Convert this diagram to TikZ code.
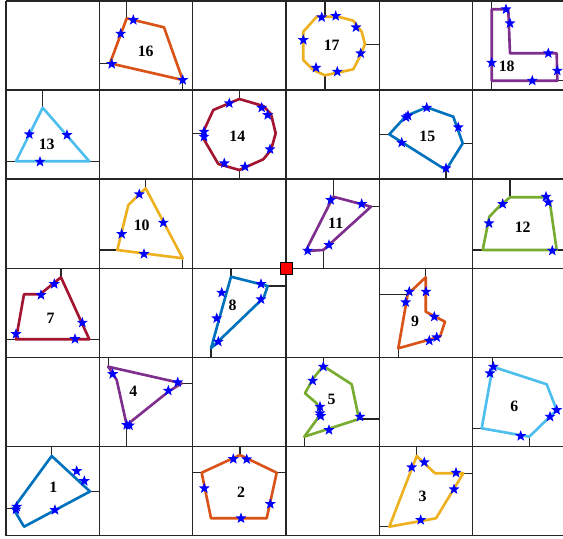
\documentclass[tikz,border=0pt]{standalone}
\usepackage{fontspec}
\setmainfont{Liberation Serif}
\usetikzlibrary{shapes.geometric}
\definecolor{mblue}{RGB}{0,114,189}
\definecolor{morange}{RGB}{217,83,25}
\definecolor{myellow}{RGB}{237,177,32}
\definecolor{mpurple}{RGB}{126,47,142}
\definecolor{mgreen}{RGB}{119,172,48}
\definecolor{mcyan}{RGB}{77,190,238}
\definecolor{mred}{RGB}{162,20,47}
\begin{document}
\begin{tikzpicture}[x=0.2mm,y=-0.2mm,
  gridline/.style={line width=0.75pt,black!85},
  stub/.style={line width=0.75pt,black!85},
  poly/.style={line width=1.5pt,line join=round},
  mstar/.style={star,star points=5,star point ratio=2.4,fill=blue,inner sep=0pt,minimum size=2.3mm},
  num/.style={font=\bfseries\fontsize{9}{10}\selectfont}]
\useasboundingbox (0,0) rectangle (563,539);

% grid
\foreach \i in {0,...,6} {
  \draw[gridline] ({6+93.33*\i},0.9) -- ({6+93.33*\i},535.5);
  \draw[gridline] (6,{0.9+89.1*\i}) -- (566,{0.9+89.1*\i});
}

% 1
\draw[stub] (51.7,446.4) -- (51.7,456) (6,508.5) -- (13.3,508.5) (90,491.5) -- (99.3,491.5);
\draw[poly,mblue] (51.7,456) -- (90,491.5) -- (24,526.7) -- (13.3,508.5) -- cycle;
\foreach \p [count=\k] in {(76.7,471),(84.3,481),(55,510),(16.7,506.7),(16,509.5)}
  \node[mstar] (s1-\k) at \p {};
\node[num] (n1) at (53.3,487.3) {1};

% 2
\draw[stub] (240,446.4) -- (240,455) (192.7,472.7) -- (201.7,472.7) (276.7,472.7) -- (286,472.7);
\draw[poly,morange] (240,455) -- (276.7,472.7) -- (266.7,518.3) -- (211,518.3) -- (201.7,472.7) -- cycle;
\foreach \p [count=\k] in {(233.3,459),(246.7,459.3),(204.3,488.3),(270.3,504),(241,518.3)}
  \node[mstar] (s2-\k) at \p {};
\node[num] (n2) at (241,492.7) {2};

% 3
\draw[stub] (416.7,446.4) -- (416.7,456) (463.3,473.3) -- (472.7,473.3) (379.3,526.7) -- (389.3,526.7);
\draw[poly,myellow] (416.7,456) -- (435,473.3) -- (463.3,473.3) -- (436,518.3) -- (389.3,526.7) -- cycle;
\foreach \p [count=\k] in {(411.7,467.3),(424.3,462.3),(456,472.7),(454,489.3),(420.7,520)}
  \node[mstar] (s3-\k) at \p {};
\node[num] (n3) at (422.7,496.7) {3};

% 4
\draw[stub] (108.3,357.3) -- (108.3,366.7) (181.7,383.3) -- (192.7,383.3) (126.7,425) -- (126.7,446.4);
\draw[poly,mpurple] (108.3,366.7) -- (116.7,380) -- (126.7,425) -- (168.3,391.7) -- (181.7,383.3) -- cycle;
\foreach \p [count=\k] in {(112.7,374),(177.7,382.3),(168.3,390.7),(126.7,425),(129.5,425.5)}
  \node[mstar] (s4-\k) at \p {};
\node[num] (n4) at (133.3,391.7) {4};

% 5
\draw[stub] (323.3,357.3) -- (323.3,366) (359,419) -- (379.3,419) (304.3,436.7) -- (304.3,446.4);
\draw[poly,mgreen] (323.3,366) -- (351.7,384.3) -- (359,419) -- (304.3,436.7) -- (320,415) -- (316.7,403.3) -- (305,393.3) -- (313.3,378.3) -- cycle;
\foreach \p [count=\k] in {(323.3,366.7),(312.7,380.7),(320,406.7),(320,413.3),(320.7,416),(360,416.7),(329,430)}
  \node[mstar] (s5-\k) at \p {};
\node[num] (n5) at (331.7,399.3) {5};

% 6
\draw[stub] (492.7,357.3) -- (492.7,366.7) (472.7,428.3) -- (481.7,428.3) (529.3,436.7) -- (529.3,446.4);
\draw[poly,mcyan] (492.7,366.7) -- (546.7,384.3) -- (556.7,410) -- (529.3,436.7) -- (481.7,428.3) -- cycle;
\foreach \p [count=\k] in {(493.3,366.7),(490,373.3),(556.7,410),(550,416.7),(520.7,436)}
  \node[mstar] (s6-\k) at \p {};
\node[num] (n6) at (514.3,406) {6};

% 7
\draw[stub] (61,268.2) -- (61,277.3) (6,339.3) -- (16,339.3) (89.3,339.3) -- (99.3,339.3);
\draw[poly,mred] (61,277.3) -- (89.3,339.3) -- (16,339.3) -- (24,294.3) -- (40,294.3) -- cycle;
\foreach \p [count=\k] in {(54.3,284),(41,295),(82.3,322.7),(75,339),(16,334)}
  \node[mstar] (s7-\k) at \p {};
\node[num] (n7) at (50.7,318.3) {7};

% 8
\draw[stub] (231,268.2) -- (231,276.7) (267.7,286) -- (286,286) (211,348.3) -- (211,357.3);
\draw[poly,mblue] (231,276.7) -- (267.7,286) -- (263.7,297.7) -- (211,348.3) -- cycle;
\foreach \p [count=\k] in {(261,284),(221.7,292.7),(261,299.3),(216.7,318.3),(218.3,341.7)}
  \node[mstar] (s8-\k) at \p {};
\node[num] (n8) at (232.7,305) {8};

% 9
\draw[stub] (425.7,268.2) -- (425.7,277.3) (379.3,294.3) -- (407.7,294.3) (398.3,348.3) -- (398.3,357.3);
\draw[poly,morange] (425.7,277.3) -- (425.7,311.7) -- (445,321.7) -- (440,336.7) -- (398.3,348.3) -- (407.7,294.3) -- cycle;
\foreach \p [count=\k] in {(409.3,291.7),(405.7,302.3),(426,291.7),(434.3,316.7),(436.7,337.3),(429.3,340.7)}
  \node[mstar] (s9-\k) at \p {};
\node[num] (n9) at (415,321.7) {9};

% 10
\draw[stub] (145.7,179.1) -- (145.7,188.3) (99.3,250) -- (117.3,250) (182.7,258.3) -- (182.7,268.2);
\draw[poly,myellow] (145.7,188.3) -- (182.7,258.3) -- (117.3,250) -- (128.3,205) -- cycle;
\foreach \p [count=\k] in {(139.3,194.3),(163.3,222.7),(121.7,234),(144,254)}
  \node[mstar] (s10-\k) at \p {};
\node[num] (n10) at (141.7,225) {10};

% 11
\draw[stub] (333.3,179.1) -- (333.3,196.7) (371,206.7) -- (379.3,206.7) (323.3,250) -- (323.3,268.2);
\draw[poly,mpurple] (333.3,196.7) -- (371,206.7) -- (323.3,250) -- (305.7,251) -- cycle;
\foreach \p [count=\k] in {(330.7,200),(361.7,204),(329,245),(307.7,250.7)}
  \node[mstar] (s11-\k) at \p {};
\node[num] (n11) at (335.7,223.3) {11};

% 12
\draw[stub] (510,179.1) -- (510,197.3) (472.7,250) -- (482.7,250) (556.7,250) -- (566,250);
\draw[poly,mgreen] (510,197.3) -- (546.7,197.3) -- (550,203.3) -- (556.7,250) -- (482.7,250) -- (489.3,216.7) -- (500,205.7) -- cycle;
\foreach \p [count=\k] in {(502.7,204),(489,223.3),(546,196.7),(548.3,202.3),(552.3,250.7)}
  \node[mstar] (s12-\k) at \p {};
\node[num] (n12) at (522.7,227.3) {12};

% 13
\draw[stub] (42.7,90) -- (42.7,107.7) (6,161.3) -- (16,161.3) (89.3,161.3) -- (99.3,161.3);
\draw[poly,mcyan] (42.7,107.7) -- (89.3,161.3) -- (16,161.3) -- cycle;
\foreach \p [count=\k] in {(29.3,134.3),(67,135),(40,161.7)}
  \node[mstar] (s13-\k) at \p {};
\node[num] (n13) at (46.7,144) {13};

% 14
\draw[stub] (239.3,90) -- (239.3,99) (192.7,133.3) -- (203.3,133.3) (239.3,170) -- (239.3,179.1);
\draw[poly,mred] (239.3,99) -- (263.3,106) -- (271,114) -- (275.7,133.3) -- (271,150) -- (263.3,159.3) -- (239.3,170) -- (218.3,164) -- (203.3,138.3) -- (203.3,131.7) -- (213.3,110) -- cycle;
\foreach \p [count=\k] in {(229.3,103.3),(261.7,107.7),(267.7,115),(270,149.3),(245,166.7),(224.3,163.3),(204,131.7),(204,136.7)}
  \node[mstar] (s14-\k) at \p {};
\node[num] (n14) at (237.3,136) {14};

% 15
\draw[stub] (379.3,134.3) -- (389.3,134.3) (462.7,143.3) -- (472.7,143.3) (446,170) -- (446,179.1);
\draw[poly,mblue] (389.3,134.3) -- (406,116) -- (426.7,107.3) -- (453.3,116.7) -- (462.7,143.3) -- (446,170) -- cycle;
\foreach \p [count=\k] in {(406,117.3),(408,115.7),(426.7,107.7),(458.3,127.3),(401.7,142.7),(446,168.3)}
  \node[mstar] (s15-\k) at \p {};
\node[num] (n15) at (427.3,136) {15};

% 16
\draw[stub] (126.7,0.9) -- (126.7,18.3) (99.3,63.3) -- (110,63.3) (182.7,80) -- (182.7,90);
\draw[poly,morange] (126.7,18.3) -- (164,27.3) -- (182.7,80) -- (110,63.3) -- cycle;
\foreach \p [count=\k] in {(133.3,20),(120.7,33.7),(111.7,64),(182.7,80)}
  \node[mstar] (s16-\k) at \p {};
\node[num] (n16) at (145.7,51.7) {16};

% 17
\draw[stub] (325,0.9) -- (325,16.7) (365,44.3) -- (379.3,44.3) (325,75.3) -- (325,90);
\draw[poly,myellow] (316.7,16.7) -- (338.3,16.7) -- (353.3,20.7) -- (361.7,31.7) -- (365,44.3) -- (359,58.3) -- (353.3,69.3) -- (325,75.3) -- (313.3,70) -- (303.3,60) -- (303.3,31.7) -- cycle;
\foreach \p [count=\k] in {(321.7,17.3),(335.7,16),(356,27.3),(360.7,53.3),(337.3,71.7),(316,67.7),(303.3,40)}
  \node[mstar] (s17-\k) at \p {};
\node[num] (n17) at (331.7,45) {17};

% 18
\draw[stub] (491.7,0.9) -- (491.7,9.3) (491.7,80.7) -- (491.7,90) (557.3,80.7) -- (566,80.7);
\draw[poly,mpurple] (491.7,9.3) -- (508.3,9.3) -- (510,53.3) -- (556.7,53.3) -- (557.3,80.7) -- (491.7,80.7) -- cycle;
\foreach \p [count=\k] in {(506,9.3),(510,23.3),(548.3,53.3),(557.3,70.7),(532.3,80.7),(491.7,62.7)}
  \node[mstar] (s18-\k) at \p {};
\node[num] (n18) at (506.7,66.7) {18};

% centre
\node[draw=black,fill=red,inner sep=0pt,minimum size=2.4mm] (origin) at (286,268.2) {};
\end{tikzpicture}
\end{document}
